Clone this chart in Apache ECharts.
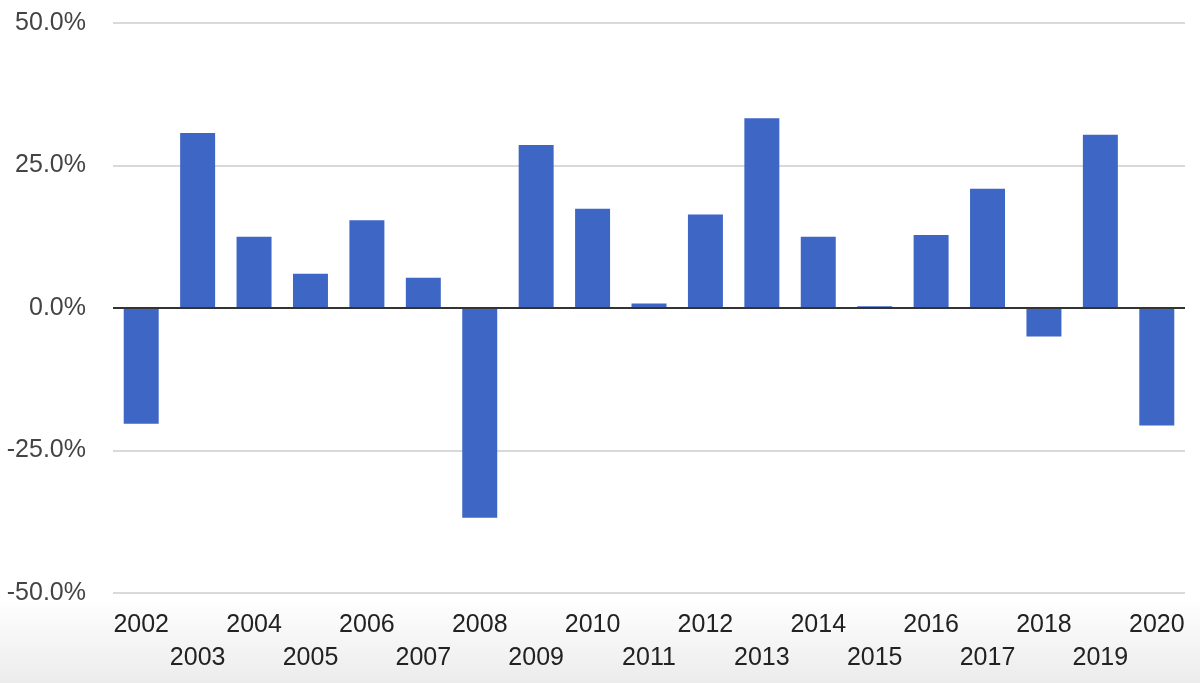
<!DOCTYPE html>
<html>
<head>
<meta charset="utf-8">
<script src="https://cdn.jsdelivr.net/npm/echarts@6/dist/echarts.min.js"></script>
<style>
html,body{margin:0;padding:0;background:#fff;}
#chart{width:1200px;height:683px;}
</style>
</head>
<body>
<div id="chart"></div>
<script>
const years = ['2002','2003','2004','2005','2006','2007','2008','2009','2010','2011','2012','2013','2014','2015','2016','2017','2018','2019','2020'];
const returns = [-20.3, 30.7, 12.5, 6.0, 15.4, 5.3, -36.8, 28.6, 17.4, 0.8, 16.4, 33.3, 12.5, 0.3, 12.8, 20.9, -5.0, 30.4, -20.6];
const yTicks = { min: -50, max: 50, interval: 25 };

const chart = echarts.init(document.getElementById('chart'));
chart.setOption({
  animation: false,
  backgroundColor: '#ffffff',
  graphic: [{
    type: 'rect',
    z: -10,
    silent: true,
    shape: { x: 0, y: 598, width: 1200, height: 85 },
    style: {
      fill: {
        type: 'linear', x: 0, y: 0, x2: 0, y2: 1,
        colorStops: [{ offset: 0, color: '#ffffff' }, { offset: 1, color: '#ececec' }]
      }
    }
  }],
  grid: { left: 113, right: 15, top: 23, bottom: 90, containLabel: false },
  xAxis: {
    type: 'category',
    data: years,
    axisLine: { show: false },
    axisTick: { show: false },
    axisLabel: {
      interval: 0,
      margin: 16,
      color: '#222222',
      fontFamily: 'Liberation Sans',
      fontSize: 25,
      lineHeight: 33,
      formatter: function (v, i) { return i % 2 ? '\n' + v : v; }
    }
  },
  yAxis: {
    type: 'value',
    min: yTicks.min,
    max: yTicks.max,
    interval: yTicks.interval,
    axisLine: { show: false },
    axisTick: { show: false },
    splitLine: { lineStyle: { color: '#cccccc', width: 1.5 } },
    axisLabel: {
      margin: 27,
      color: '#444444',
      fontFamily: 'Liberation Sans',
      fontSize: 25,
      formatter: function (v) { return v.toFixed(1) + '%'; }
    }
  },
  series: [{
    type: 'bar',
    data: returns,
    barWidth: '62%',
    itemStyle: { color: '#3e66c5' },
    markLine: {
      silent: true,
      symbol: 'none',
      label: { show: false },
      lineStyle: { color: '#333333', width: 2, type: 'solid' },
      data: [{ yAxis: 0 }]
    }
  }]
});
</script>
</body>
</html>
